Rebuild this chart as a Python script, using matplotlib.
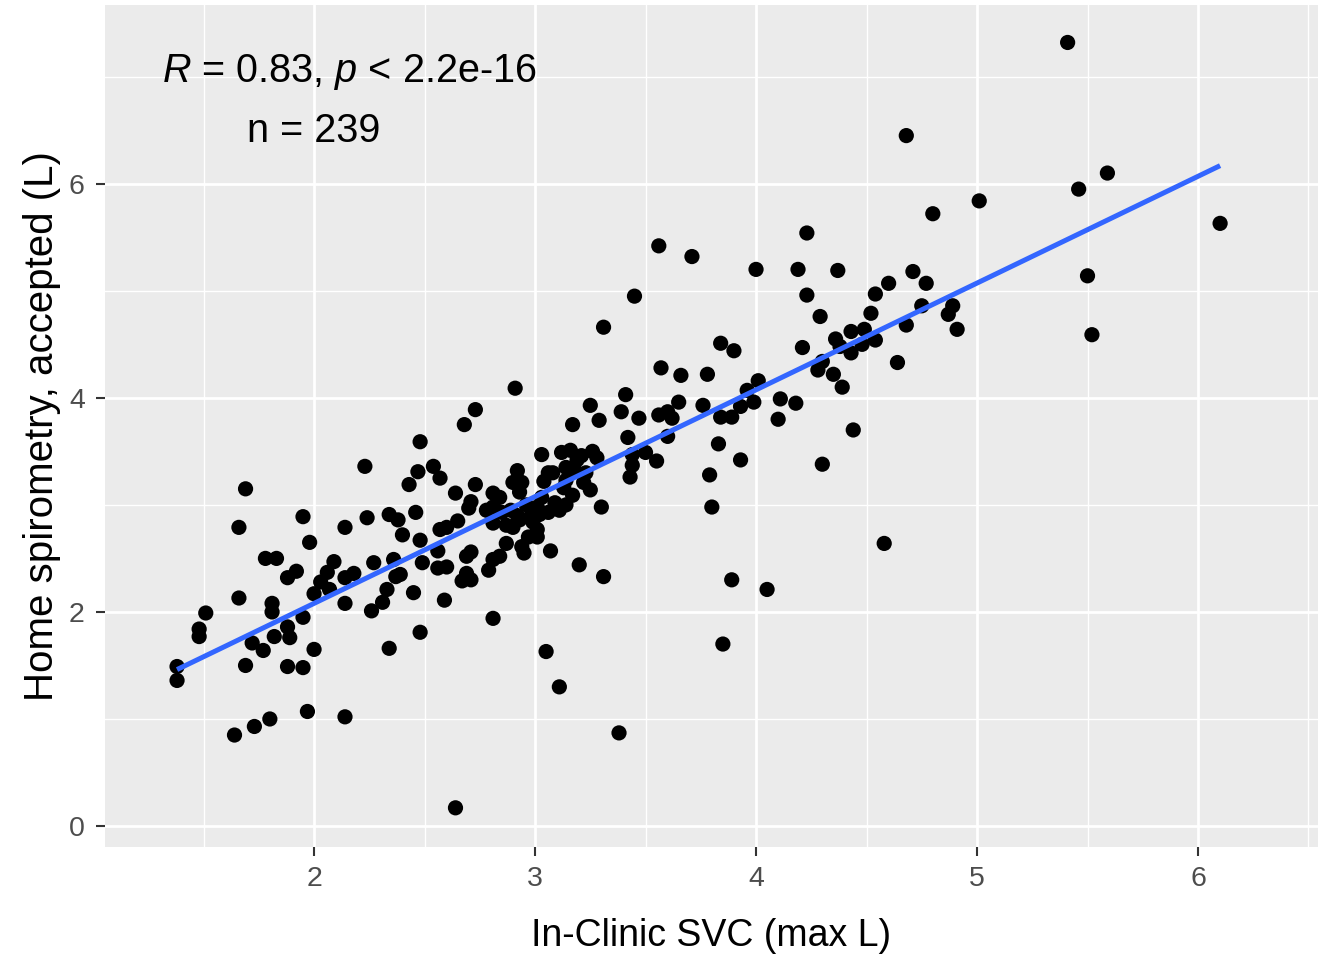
import matplotlib
matplotlib.use("Agg")
import matplotlib.pyplot as plt
import numpy as np

# In-Clinic SVC (max L)
svc = [1.38, 1.38, 1.48, 1.48, 1.51, 1.66, 1.66, 1.69, 1.69, 1.64,
       1.73, 1.80, 1.72, 1.77, 1.78, 1.83, 1.81, 1.81, 1.82, 1.88,
       1.92, 1.88, 1.89, 1.88, 1.95, 1.95, 1.95, 1.97, 1.98, 2.00,
       2.00, 2.03, 2.06, 2.09, 2.07, 2.14, 2.14, 2.14, 2.14, 2.18,
       2.23, 2.24, 2.26, 2.27, 2.31, 2.33, 2.34, 2.34, 2.36, 2.37,
       2.38, 2.39, 2.40, 2.43, 2.45, 2.46, 2.47, 2.48, 2.48, 2.48,
       2.49, 2.54, 2.56, 2.56, 2.57, 2.57, 2.59, 2.60, 2.60, 2.64,
       2.64, 2.65, 2.67, 2.68, 2.69, 2.69, 2.70, 2.71, 2.71, 2.73,
       2.73, 2.71, 2.78, 2.79, 2.81, 2.81, 2.81, 2.81, 2.81, 2.84,
       2.84, 2.85, 2.87, 2.87, 2.89, 2.90, 2.90, 2.91, 2.92, 2.92,
       2.93, 2.93, 2.94, 2.94, 2.95, 2.96, 2.97, 2.98, 2.99, 3.01,
       3.01, 3.01, 3.02, 3.03, 3.03, 3.04, 3.05, 3.06, 3.06, 3.07,
       3.08, 3.09, 3.11, 3.11, 3.12, 3.13, 3.14, 3.14, 3.14, 3.16,
       3.17, 3.17, 3.18, 3.19, 3.20, 3.21, 3.22, 3.23, 3.25, 3.25,
       3.26, 3.28, 3.29, 3.30, 3.31, 3.31, 3.38, 3.39, 3.41, 3.42,
       3.43, 3.44, 3.44, 3.45, 3.47, 3.50, 3.55, 3.56, 3.56, 3.57,
       3.60, 3.60, 3.62, 3.65, 3.66, 3.71, 3.76, 3.78, 3.79, 3.80,
       3.83, 3.84, 3.84, 3.85, 3.89, 3.89, 3.90, 3.93, 3.93, 3.96,
       3.99, 4.00, 4.01, 4.05, 4.10, 4.11, 4.18, 4.19, 4.21, 4.23,
       4.23, 4.28, 4.29, 4.30, 4.30, 4.35, 4.36, 4.37, 4.38, 4.39,
       4.43, 4.43, 4.44, 4.48, 4.49, 4.52, 4.54, 4.54, 4.58, 4.60,
       4.64, 4.68, 4.68, 4.71, 4.75, 4.77, 4.80, 4.87, 4.89, 4.91,
       5.01, 5.41, 5.46, 5.50, 5.52, 5.59, 6.10]

# Home spirometry, accepted (L)
home = [1.49, 1.36, 1.84, 1.77, 1.99, 2.13, 2.79, 3.15, 1.50, 0.85,
        0.93, 1.00, 1.71, 1.64, 2.50, 2.50, 2.08, 2.00, 1.77, 2.32,
        2.38, 1.86, 1.76, 1.49, 2.89, 1.48, 1.95, 1.07, 2.65, 1.65,
        2.17, 2.28, 2.37, 2.47, 2.21, 2.79, 2.32, 2.08, 1.02, 2.36,
        3.36, 2.88, 2.01, 2.46, 2.09, 2.21, 1.66, 2.91, 2.49, 2.33,
        2.86, 2.35, 2.72, 3.19, 2.18, 2.93, 3.31, 3.59, 2.67, 1.81,
        2.46, 3.36, 2.57, 2.41, 2.77, 3.25, 2.11, 2.79, 2.42, 3.11,
        0.17, 2.85, 2.29, 3.75, 2.36, 2.52, 2.97, 3.03, 2.56, 3.89,
        3.19, 2.30, 2.95, 2.39, 3.11, 2.83, 2.49, 1.94, 2.98, 3.07,
        2.52, 2.93, 2.64, 2.81, 2.95, 2.79, 3.21, 4.09, 3.32, 2.90,
        2.86, 3.12, 3.21, 2.61, 2.55, 3.00, 2.70, 2.89, 2.84, 2.98,
        2.70, 2.77, 2.91, 3.47, 3.07, 3.22, 1.63, 3.30, 2.93, 2.57,
        3.30, 3.02, 1.30, 2.95, 3.49, 3.16, 3.00, 3.35, 3.23, 3.51,
        3.75, 3.09, 3.32, 3.42, 2.44, 3.46, 3.21, 3.30, 3.93, 3.14,
        3.50, 3.44, 3.79, 2.98, 2.33, 4.66, 0.87, 3.87, 4.03, 3.63,
        3.26, 3.37, 3.47, 4.95, 3.81, 3.49, 3.41, 5.42, 3.84, 4.28,
        3.64, 3.87, 3.81, 3.96, 4.21, 5.32, 3.93, 4.22, 3.28, 2.98,
        3.57, 4.51, 3.82, 1.70, 3.82, 2.30, 4.44, 3.92, 3.42, 4.07,
        3.96, 5.20, 4.16, 2.21, 3.80, 3.99, 3.95, 5.20, 4.47, 5.54,
        4.96, 4.26, 4.76, 4.34, 3.38, 4.22, 4.55, 5.19, 4.48, 4.10,
        4.42, 4.62, 3.70, 4.50, 4.64, 4.79, 4.54, 4.97, 2.64, 5.07,
        4.33, 6.45, 4.68, 5.18, 4.86, 5.07, 5.72, 4.78, 4.86, 4.64,
        5.84, 7.32, 5.95, 5.14, 4.59, 6.10, 5.63]

x_ticks = [2, 3, 4, 5, 6]
y_ticks = [0, 2, 4, 6]
x_title = "In-Clinic SVC (max L)"
y_title = "Home spirometry, accepted (L)"
stat_label = r"$\it{R}$ = 0.83, $\it{p}$ < 2.2e-16"
n_label = "n = 239"

plt.rcParams['font.family'] = ['Liberation Sans', 'DejaVu Sans']
plt.rcParams['mathtext.fontset'] = 'custom'
plt.rcParams['mathtext.it'] = 'Liberation Sans:italic'
plt.rcParams['mathtext.rm'] = 'Liberation Sans'

fig = plt.figure(figsize=(13.25, 9.55), dpi=100)
ax = fig.add_axes([105/1325, 1-847/955, (1318-105)/1325, (847-5)/955])
ax.set_facecolor('#EBEBEB')
for s in ax.spines.values():
    s.set_visible(False)

ax.set_xlim(1.054, 6.543)
ax.set_ylim(-0.196, 7.67)

ax.set_xticks(x_ticks)
ax.set_yticks(y_ticks)
ax.set_xticks([1.5, 2.5, 3.5, 4.5, 5.5, 6.5], minor=True)
ax.set_yticks([1, 3, 5, 7], minor=True)
ax.grid(which='major', color='white', linewidth=2.0)
ax.grid(which='minor', color='white', linewidth=1.0)
ax.set_axisbelow(True)
ax.tick_params(which='minor', length=0)
ax.tick_params(which='major', length=6.5, width=1.5, color='#333333',
               labelsize=20.5, labelcolor='#4D4D4D')
ax.tick_params(axis='x', which='major', pad=7)
ax.tick_params(axis='y', which='major', pad=8)

ax.scatter(svc, home, s=120, color='black', edgecolors='none', zorder=3)

xs = np.array(svc)
ys = np.array(home)
b, a = np.polyfit(xs, ys, 1)
xl = np.array([xs.min(), xs.max()])
ax.plot(xl, a + b * xl, color='#3366FF', linewidth=3.6, zorder=4,
        solid_capstyle='butt')

ax.text(1.31, 7.04, stat_label, fontsize=28.5, ha='left', va='center', color='black')
ax.text(2.0, 6.49, n_label, fontsize=28.5, ha='center', va='center', color='black')

ax.set_xlabel(x_title, fontsize=27, labelpad=19)
ax.set_ylabel(y_title, fontsize=29, labelpad=6)

fig.savefig("out.png", dpi=100, facecolor='white')
